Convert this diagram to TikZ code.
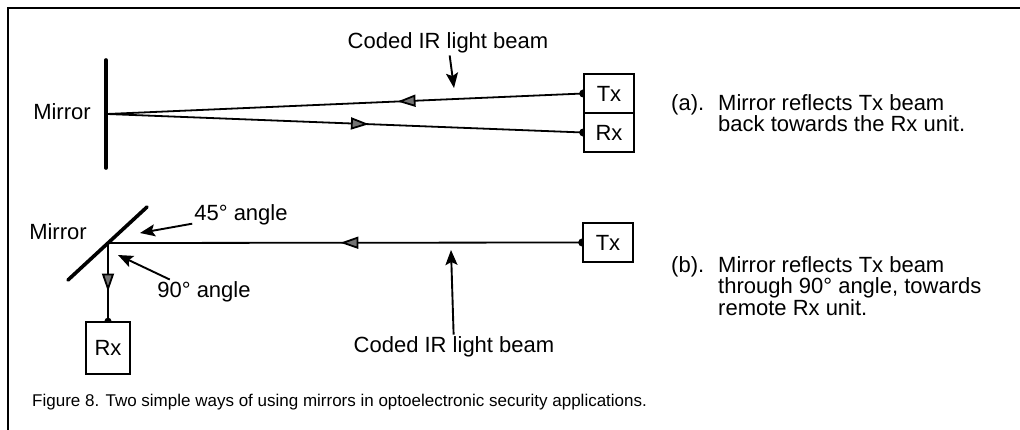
\documentclass[tikz,border=0pt]{standalone}
\usepackage{fontspec}
\setmainfont{Liberation Sans}
\usepackage{tikz}
\usetikzlibrary{arrows.meta,decorations.markings,backgrounds}

\begin{document}
\begin{tikzpicture}[x=1pt,y=-1pt,
  unit/.style={draw,line width=1.5pt,fill=white,minimum width=50pt,
               minimum height=39pt,inner sep=0pt,font=\fontsize{22}{22}\selectfont},
  lbl/.style={font=\fontsize{22}{22}\selectfont,inner sep=2pt},
  desc/.style={font=\fontsize{22}{18.5}\selectfont,inner sep=0pt},
  beam/.style={line width=1.8pt},
  mirr/.style={line width=3.6pt,line cap=round},
  ptr/.style={line width=1.9pt,-{Stealth[length=15pt,width=12pt,inset=3pt]}},
  mid/.style={postaction={decorate},decoration={markings,
      mark=at position #1 with {\arrow{Triangle[length=18pt,width=12pt,fill=black!55]}}}}
]
\useasboundingbox (0,0) rectangle (1020,430);
% frame
\draw[line width=2.4pt] (1020,8) -- (8,8) -- (8,430);

% (a): mirror sends the Tx beam back to Rx
\node[lbl] (mla) at (62,112) {Mirror};
\draw[mirr] (106,60) -- (106,168);
\coordinate (m1) at (107,114);
\node[unit] (tx1) at (609,93.5) {Tx};
\node[unit] (rx1) at (609,132.5) {Rx};
\node[lbl] (cba) at (448,43) {Coded IR light beam};
\coordinate (pa) at (454,88);
\draw[ptr] (cba) -- (pa);
\node[desc,anchor=north west] (txta) at (671,94)
  {\begin{tabular}{@{}l@{\hspace{14pt}}l@{}}(a). & Mirror reflects Tx beam\\
   & back towards the Rx unit.\end{tabular}};

% (b): mirror turns the beam through 90 degrees
\node[lbl] (mlb) at (58,232) {Mirror};
\draw[mirr] (147,207) -- (68,280);
\coordinate (m2) at (108,243);
\node[unit] (tx2) at (608,242.5) {Tx};
\node[unit,minimum width=44pt,minimum height=52pt] (rx2) at (108,348) {Rx};
\node[lbl] (ang45) at (241,215) {45° angle};
\coordinate (p45) at (140,233);
\draw[ptr] (ang45) -- (p45);
\node[lbl] (ang90) at (204,292) {90° angle};
\coordinate (p90) at (118,255);
\draw[ptr] (ang90.160) -- (p90);
\node[lbl] (cbb) at (454,347) {Coded IR light beam};
\coordinate (pb) at (451,250);
\draw[ptr] (cbb) -- (pb);
\node[desc,anchor=north west] (txtb) at (671,256)
  {\begin{tabular}{@{}l@{\hspace{14pt}}l@{}}(b). & Mirror reflects Tx beam\\
   & through 90° angle, towards\\ & remote Rx unit.\end{tabular}};

\node[font=\fontsize{17}{17}\selectfont,anchor=west,inner sep=0pt] (capt) at (32,402)
  {Figure 8. Two simple ways of using mirrors in optoelectronic security applications.};

% beams go under the boxes, so the end dots show only half
\begin{scope}[on background layer]
\draw[beam,mid=0.39,{Circle[length=8pt]}-,shorten <=-4pt] (tx1.west) -- (m1);
\draw[beam,mid=0.55,-{Circle[length=8pt]},shorten >=-4pt] (m1) -- (rx1.west);
\draw[beam,mid=0.51,{Circle[length=8pt]}-,shorten <=-4pt] (tx2.west) -- (m2);
\draw[beam,mid=0.62,-{Circle[length=7pt]},shorten >=-3.5pt] (m2) -- (rx2.north);
\end{scope}
\end{tikzpicture}
\end{document}
